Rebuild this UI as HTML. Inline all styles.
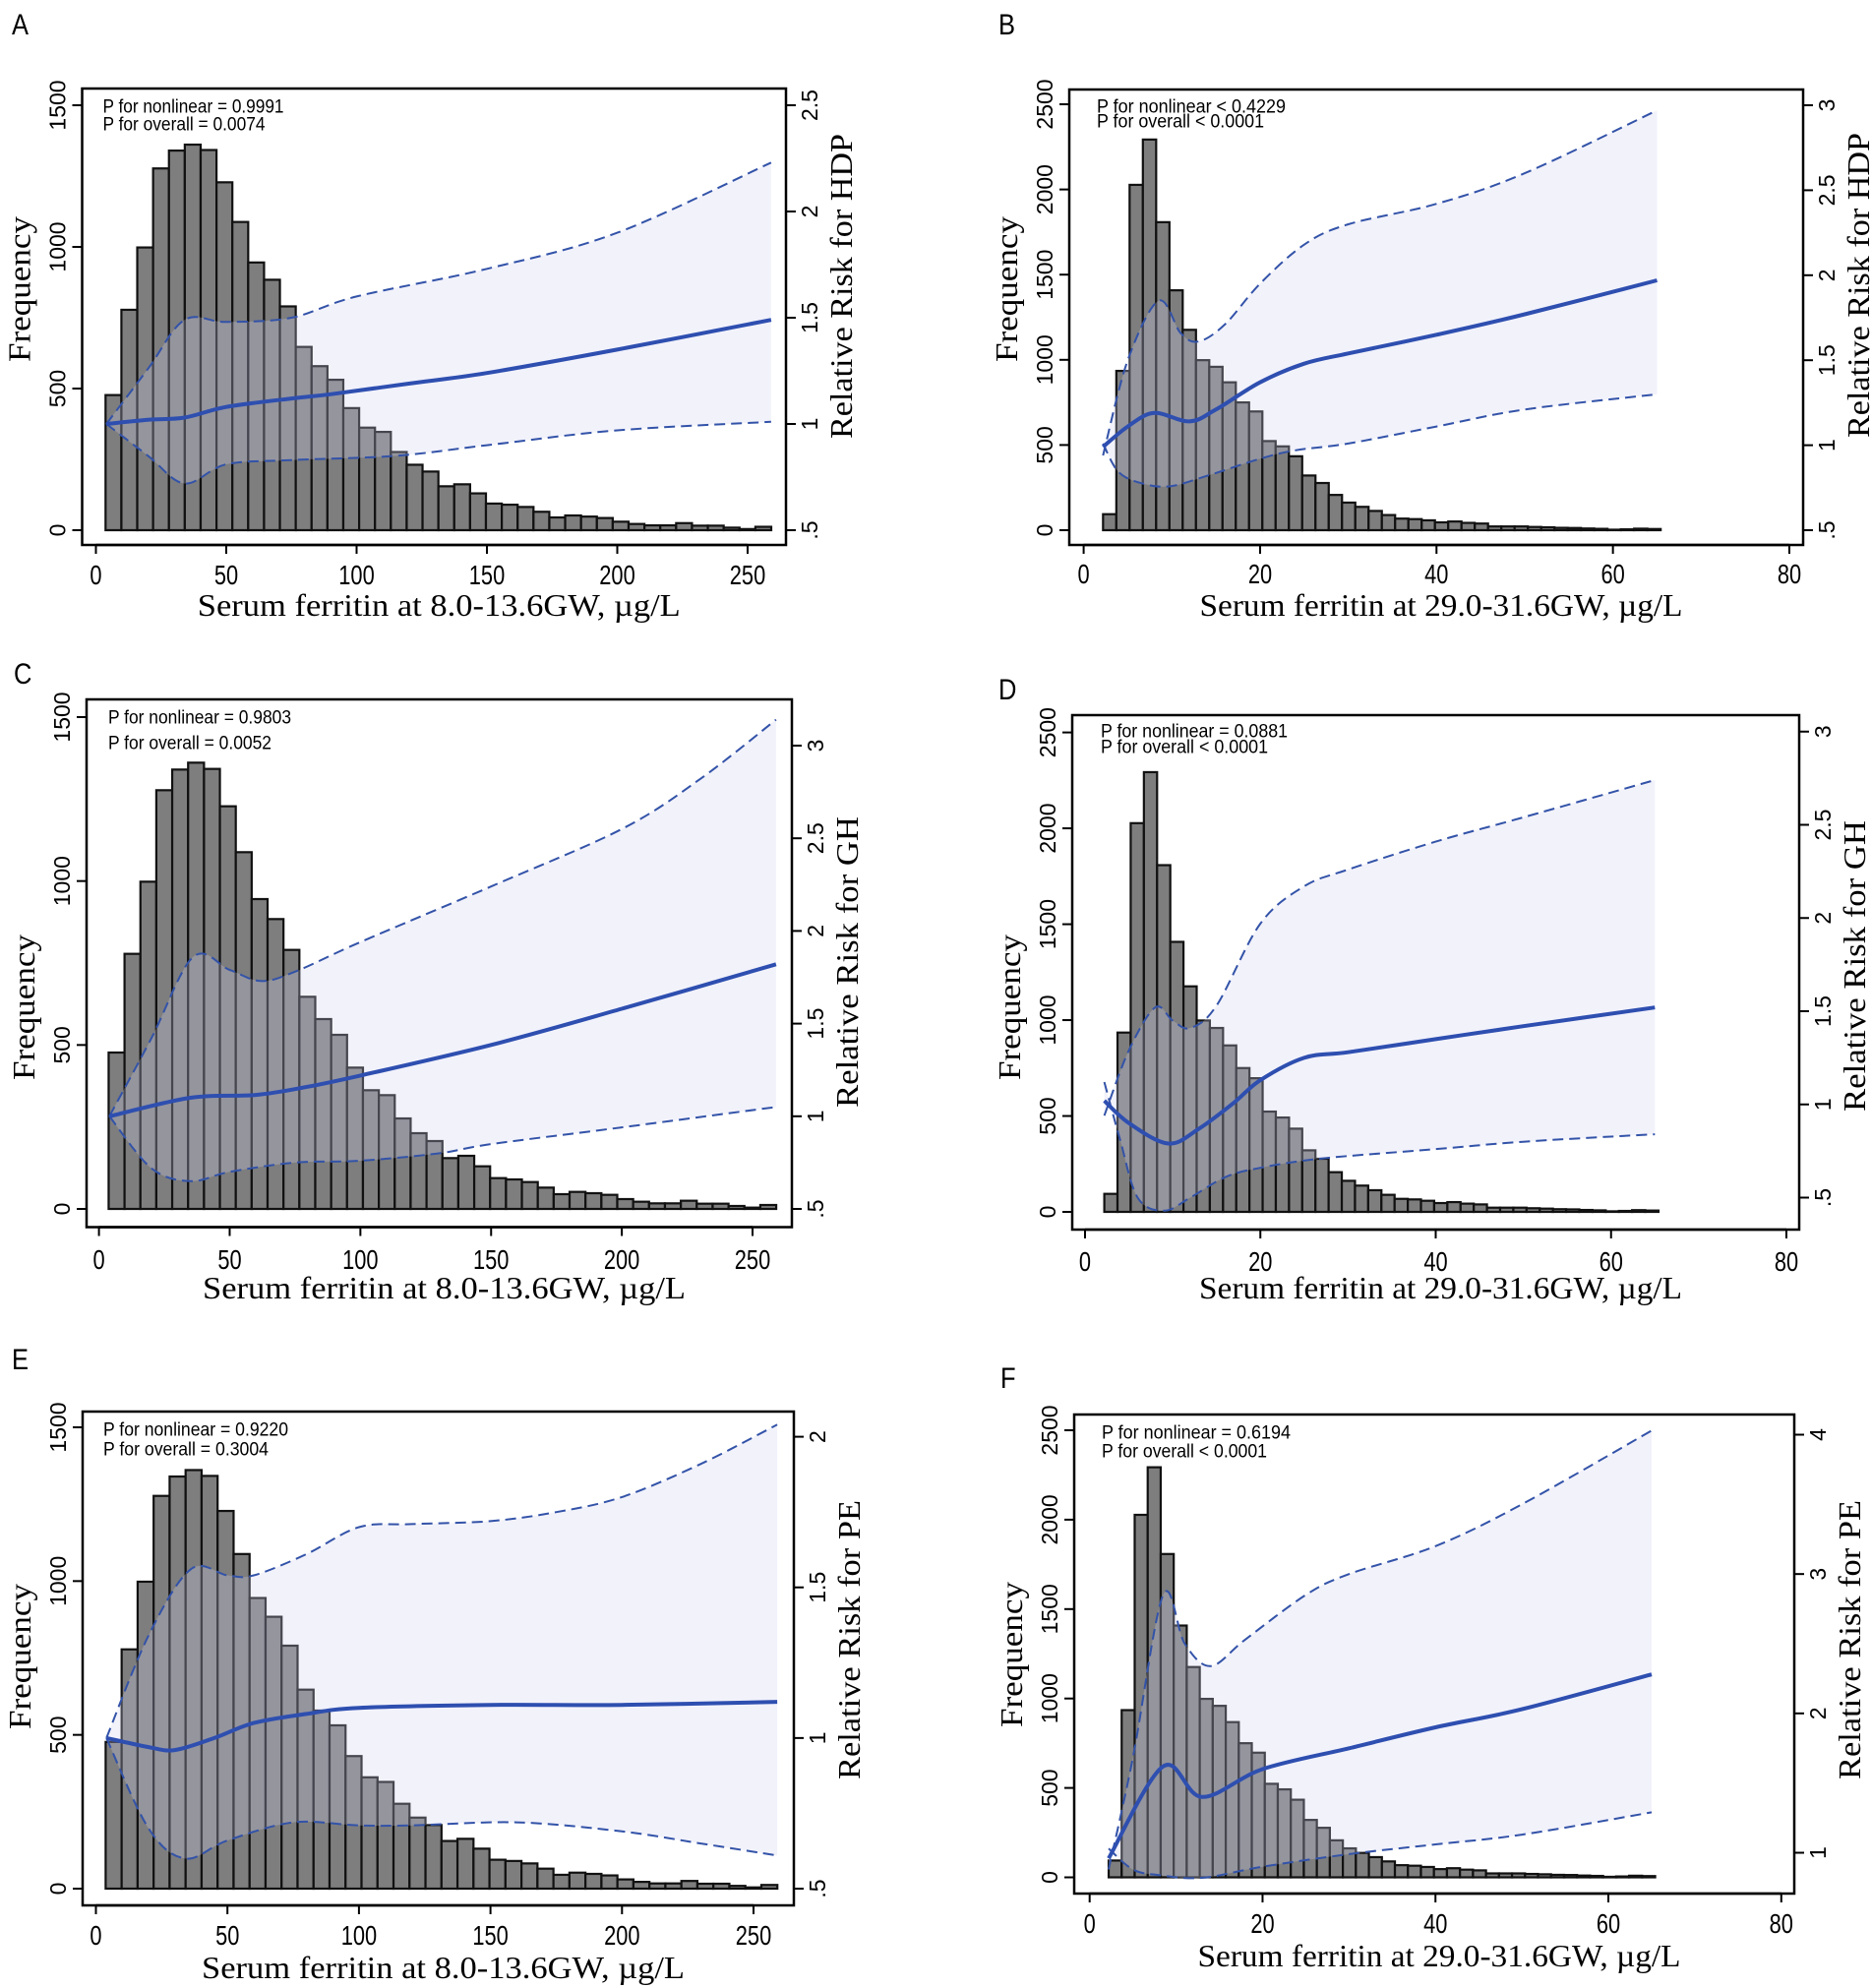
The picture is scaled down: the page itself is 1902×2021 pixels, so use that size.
<!DOCTYPE html>
<html><head><meta charset="utf-8"><style>
html,body{margin:0;padding:0;background:#fff;}
svg{display:block;}
.tick{font-family:"Liberation Sans",sans-serif;font-size:23px;fill:#000;}
.xtick{font-family:"Liberation Sans",sans-serif;font-size:28px;fill:#000;}
.ptxt{font-family:"Liberation Sans",sans-serif;font-size:19px;fill:#000;}
.ttl{font-family:"Liberation Serif",serif;font-size:32px;fill:#000;}
.lab{font-family:"Liberation Sans",sans-serif;font-size:30px;fill:#000;}
</style></head><body>
<svg id="fig" width="1902" height="2021" viewBox="0 0 1902 2021" xmlns="http://www.w3.org/2000/svg"></svg>
<script>
// ---- data ----
const histEarly = [477,778,998,1277,1340,1361,1342,1228,1088,945,884,790,647,579,531,431,362,347,276,231,207,155,162,130,94,90,82,65,45,52,48,43,30,22,17,17,25,16,16,9,4,12];
const histLate = [94,935,2027,2293,1808,1408,1176,998,959,868,750,697,523,492,434,321,277,207,162,137,113,89,68,65,58,46,51,43,39,22,22,22,19,17,14,13,10,8,3,5,9,7];
const earlyStart = 3.7, earlyWidth = 6.08;
const lateStart = 2.2, lateWidth = 1.505;

const xA = [4,20,34,50,75,90,120,150,200,259];
const cA = [1.0,1.02,1.03,1.08,1.12,1.14,1.19,1.24,1.35,1.49];
const xAu = [4,20,34,50,75,100,150,200,259];
const uA = [1.0,1.26,1.49,1.48,1.5,1.6,1.73,1.9,2.23];
const xAl = [4,20,34,50,75,115,150,200,259];
const lA = [1.0,0.85,0.72,0.81,0.83,0.85,0.9,0.97,1.01];

const xB = [2.2,5,8,12,15,20,25,30,40,50,65];
const cB = [0.99,1.11,1.19,1.14,1.21,1.37,1.48,1.54,1.65,1.77,1.97];
const xBu = [2.2,5,8.5,11,13,16,20,25,30,40,50,65];
const uB = [0.94,1.5,1.85,1.66,1.61,1.71,1.95,2.18,2.3,2.42,2.6,2.97];
const xBl = [2.2,4,7,10,14,20,24,30,40,50,65];
const lB = [1.01,0.84,0.77,0.76,0.82,0.92,0.97,1.01,1.11,1.21,1.3];

const xC = [4,35,60,80,100,150,200,259];
const cC = [1.0,1.1,1.115,1.16,1.22,1.385,1.58,1.82];
const xCu = [4,20,36,50,62,75,100,150,200,230,259];
const uC = [1.0,1.42,1.86,1.79,1.73,1.78,1.94,2.24,2.55,2.82,3.14];
const xCl = [4,20,35,50,75,100,130,150,200,259];
const lC = [1.0,0.72,0.65,0.7,0.75,0.76,0.8,0.85,0.94,1.05];

const xD = [2.2,5,9.5,13,17,20,25,30,40,50,65];
const cD = [1.02,0.9,0.79,0.87,1.01,1.13,1.25,1.28,1.35,1.42,1.52];
const xDu = [2.2,5,8,10,12,15,20,25,30,40,50,65];
const uD = [0.94,1.29,1.52,1.45,1.41,1.53,1.97,2.17,2.26,2.41,2.54,2.74];
const xDl = [2.2,4,6,9,12,16,20,27,40,50,65];
const lD = [1.12,0.81,0.5,0.43,0.5,0.61,0.66,0.71,0.76,0.8,0.84];

const xE = [4,20,30,45,60,80,100,150,200,259];
const cE = [1.0,0.97,0.96,1.0,1.05,1.08,1.1,1.11,1.11,1.12];
const xEu = [4,20,36,50,60,80,100,120,150,175,200,230,259];
const uE = [1.0,1.34,1.56,1.54,1.54,1.61,1.7,1.71,1.72,1.75,1.8,1.91,2.04];
const xEl = [4,20,34,50,75,100,120,160,200,230,259];
const lE = [1.0,0.7,0.6,0.66,0.72,0.71,0.71,0.72,0.69,0.65,0.61];

const xF = [2.2,8.5,13,20,30,40,50,65];
const cF = [0.96,1.62,1.4,1.6,1.75,1.9,2.03,2.28];
const xFu = [2.2,5,8.5,11,14,18,25,30,40,50,65];
const uF = [0.88,1.68,2.85,2.5,2.34,2.53,2.85,3.0,3.2,3.5,4.03];
const xFl = [2.2,5,8,13,20,30,40,50,65];
const lF = [1.03,0.88,0.84,0.82,0.9,0.99,1.06,1.13,1.29];

const earlyTicks = [0,50,100,150,200,250];
const lateTicks = [0,20,40,60,80];
const freqEarlyTicks = [0,500,1000,1500];
const freqLateTicks = [0,500,1000,1500,2000,2500];
const rrTicksA = [0.5,1,1.5,2,2.5];
const rrTicksB = [0.5,1,1.5,2,2.5,3];
const rrTicksE = [0.5,1,1.5,2];
const rrTicksF = [1,2,3,4];
const rrLabelsA = [".5","1","1.5","2","2.5"];
const rrLabelsB = [".5","1","1.5","2","2.5","3"];
const rrLabelsE = [".5","1","1.5","2"];
const rrLabelsF = ["1","2","3","4"];

// ---- drawing ----
const NS = "http://www.w3.org/2000/svg";
const svg = document.getElementById('fig');
function mk(tag, attrs, parent, text){
  const e = document.createElementNS(NS, tag);
  for (const k in attrs) e.setAttribute(k, attrs[k]);
  if (text !== undefined) e.textContent = text;
  (parent||svg).appendChild(e);
  return e;
}
function smoothPath(pts){
  let d = "M"+pts[0][0].toFixed(1)+","+pts[0][1].toFixed(1);
  for (let i=0;i<pts.length-1;i++){
    const p0=pts[Math.max(0,i-1)], p1=pts[i], p2=pts[i+1], p3=pts[Math.min(pts.length-1,i+2)];
    const c1=[p1[0]+(p2[0]-p0[0])/6, p1[1]+(p2[1]-p0[1])/6];
    const c2=[p2[0]-(p3[0]-p1[0])/6, p2[1]-(p3[1]-p1[1])/6];
    d += " C"+c1[0].toFixed(1)+","+c1[1].toFixed(1)+" "+c2[0].toFixed(1)+","+c2[1].toFixed(1)+" "+p2[0].toFixed(1)+","+p2[1].toFixed(1);
  }
  return d;
}
function panel(cfg){
  const g = mk('g', {});
  
  
  const xs = v => cfg.x0 + v*(cfg.x1-cfg.x0)/cfg.xMax;
  const ys = v => cfg.y0 + v*(cfg.y1-cfg.y0)/cfg.yMax;
  const rs = v => cfg.r0 + (v-cfg.rLo)*(cfg.r1-cfg.r0)/(cfg.rHi-cfg.rLo);
  const F = cfg.frame;
  const lt = mk('text', {x:cfg.lx, y:cfg.ly, class:'lab', transform:'translate('+cfg.lx+' 0) scale(0.85 1) translate('+(-cfg.lx)+' 0)'}, g, cfg.id);
  
  
  const bg = mk('g', {}, g);
  
  
  cfg.hist.forEach((h,i)=>{
    const a = xs(cfg.bStart + i*cfg.bW), b = xs(cfg.bStart+(i+1)*cfg.bW);
    const r = mk('rect', {x:a, y:ys(h), width:b-a, height:Math.max(0.5, ys(0)-ys(h)), fill:'#7e7e7e', stroke:'#111', 'stroke-width':2.2}, bg);
    
    
  });
  const up = cfg.xu.map((x,i)=>[xs(x), rs(cfg.u[i])]);
  const lo = cfg.xl.map((x,i)=>[xs(x), rs(cfg.l[i])]);
  const loRev = lo.slice().reverse();
  const band = mk('path', {d: smoothPath(up)+" L"+smoothPath(loRev).slice(1)+" Z", fill:'#d0d0f0', 'fill-opacity':0.28, stroke:'none'}, g);
  
  
  const ul = mk('path', {d:smoothPath(up), fill:'none', stroke:'#3353a8', 'stroke-width':2, 'stroke-dasharray':'11,6'}, g);
  
  
  const ll = mk('path', {d:smoothPath(lo), fill:'none', stroke:'#3353a8', 'stroke-width':2, 'stroke-dasharray':'11,6'}, g);
  
  
  const cp = cfg.xc.map((x,i)=>[xs(x), rs(cfg.c[i])]);
  const cl = mk('path', {d:smoothPath(cp), fill:'none', stroke:'#2e4fb0', 'stroke-width':4}, g);
  
  
  const fr = mk('rect', {x:F[0], y:F[1], width:F[2]-F[0], height:F[3]-F[1], fill:'none', stroke:'#000', 'stroke-width':2.5}, g);
  
  
  const xa = mk('g', {}, g);
  
  
  mk('line', {x1:xs(0), x2:xs(cfg.xMax), y1:F[3], y2:F[3], stroke:'#000','stroke-width':2.5}, xa);
  cfg.xTicks.forEach(t=>{
    mk('line', {x1:xs(t), x2:xs(t), y1:F[3], y2:F[3]+9, stroke:'#000','stroke-width':2}, xa);
    const tx = xs(t);
    const tl = mk('text', {x:0, y:0, class:'xtick', 'text-anchor':'middle', transform:'translate('+tx+' '+cfg.xLabY+') scale(0.78 1)'}, xa, String(t));
    
    
  });
  const xt = mk('text', {x:(F[0]+F[2])/2 + 5, y:cfg.xTitY, class:'ttl', 'text-anchor':'middle', textLength:491, lengthAdjust:'spacingAndGlyphs'}, g, cfg.xTitle);
  
  
  const ya = mk('g', {}, g);
  
  
  cfg.yTicks.forEach(t=>{
    mk('line', {x1:F[0]-10, x2:F[0], y1:ys(t), y2:ys(t), stroke:'#000','stroke-width':2}, ya);
    const cx = F[0]-25, cy = ys(t);
    const tl = mk('text', {x:cx, y:cy, class:'tick', 'text-anchor':'middle', 'dominant-baseline':'central', transform:'rotate(-90 '+cx+' '+cy+')', 'font-size':'23'}, ya, String(t));
    
    
  });
  const fx = F[0]-64, fy = cfg.fTitY;
  const ft = mk('text', {x:fx, y:fy, class:'ttl', 'text-anchor':'middle', 'dominant-baseline':'central', transform:'rotate(-90 '+fx+' '+fy+')', textLength:148, lengthAdjust:'spacingAndGlyphs'}, g, 'Frequency');
  
  
  const ra = mk('g', {}, g);
  
  
  cfg.rTicks.forEach((t,i)=>{
    mk('line', {x1:F[2], x2:F[2]+10, y1:rs(t), y2:rs(t), stroke:'#000','stroke-width':2}, ra);
    const cx = F[2]+24, cy = rs(t);
    const tl = mk('text', {x:cx, y:cy, class:'tick', 'text-anchor':'middle', 'dominant-baseline':'central', transform:'rotate(-90 '+cx+' '+cy+')', 'font-size':'23'}, ra, cfg.rLabels[i]);
    
    
  });
  const rx = F[2]+56, ry = cfg.rTitY;
  const rt = mk('text', {x:rx, y:ry, class:'ttl', 'text-anchor':'middle', 'dominant-baseline':'central', transform:'rotate(-90 '+rx+' '+ry+')', textLength:cfg.rTitLen, lengthAdjust:'spacingAndGlyphs'}, g, cfg.rTitle);
  
  
  const p1 = mk('text', {x:F[0]+cfg.pdx, y:F[1]+cfg.pdy1, class:'ptxt', 'dominant-baseline':'central', textLength:cfg.pw1, lengthAdjust:'spacingAndGlyphs'}, g, cfg.p1);
  
  
  const p2 = mk('text', {x:F[0]+cfg.pdx, y:F[1]+cfg.pdy2, class:'ptxt', 'dominant-baseline':'central', textLength:cfg.pw2, lengthAdjust:'spacingAndGlyphs'}, g, cfg.p2);
  
  
}
const earlyTitle = "Serum ferritin at 8.0-13.6GW, \u00b5g/L";
const lateTitle = "Serum ferritin at 29.0-31.6GW, \u00b5g/L";
const E = {xMax:250, xTicks:earlyTicks, yMax:1500, yTicks:freqEarlyTicks, hist:histEarly, bStart:earlyStart, bW:earlyWidth, xTitle:earlyTitle};
const L = {xMax:80, xTicks:lateTicks, yMax:2500, yTicks:freqLateTicks, hist:histLate, bStart:lateStart, bW:lateWidth, xTitle:lateTitle};

panel(Object.assign({}, E, {id:'A', lx:12, ly:35, frame:[83.5,90,799,554], x0:97.5, x1:760, y0:539, y1:107,
  rLo:0.5, rHi:2.5, r0:539, r1:107, rTicks:rrTicksA, rLabels:rrLabelsA, rTitle:'Relative Risk for HDP', rTitLen:310, rTitY:291, fTitY:294,
  xLabY:594, xTitY:626, xc:xA, c:cA, xu:xAu, u:uA, xl:xAl, l:lA,
  p1:'P for nonlinear = 0.9991', p2:'P for overall = 0.0074', pdx:21, pdy1:19, pdy2:37, pw1:184, pw2:165}));
panel(Object.assign({}, L, {id:'B', lx:1015, ly:35, frame:[1087,91,1833,554], x0:1101.6, x1:1819, y0:539, y1:106,
  rLo:0.5, rHi:3, r0:539, r1:107, rTicks:rrTicksB, rLabels:rrLabelsB, rTitle:'Relative Risk for HDP', rTitLen:310, rTitY:290, fTitY:294,
  xLabY:593, xTitY:626, xc:xB, c:cB, xu:xBu, u:uB, xl:xBl, l:lB,
  p1:'P for nonlinear < 0.4229', p2:'P for overall < 0.0001', pdx:28, pdy1:18, pdy2:33, pw1:192, pw2:170}));
panel(Object.assign({}, E, {id:'C', lx:14, ly:695, frame:[88,711,805,1247.5], x0:100.6, x1:765, y0:1229, y1:729,
  rLo:0.5, rHi:3, r0:1229, r1:758, rTicks:rrTicksB, rLabels:rrLabelsB, rTitle:'Relative Risk for GH', rTitLen:296, rTitY:978, fTitY:1024,
  xLabY:1290, xTitY:1320, xc:xC, c:cC, xu:xCu, u:uC, xl:xCl, l:lC,
  p1:'P for nonlinear = 0.9803', p2:'P for overall = 0.0052', pdx:22, pdy1:19, pdy2:45, pw1:186, pw2:166}));
panel(Object.assign({}, L, {id:'D', lx:1015, ly:711, frame:[1090,727,1829,1250], x0:1103, x1:1816, y0:1232, y1:744.6,
  rLo:0.5, rHi:3, r0:1217.5, r1:743.75, rTicks:rrTicksB, rLabels:rrLabelsB, rTitle:'Relative Risk for GH', rTitLen:296, rTitY:982, fTitY:1024,
  xLabY:1292, xTitY:1320, xc:xD, c:cD, xu:xDu, u:uD, xl:xDl, l:lD,
  p1:'P for nonlinear = 0.0881', p2:'P for overall < 0.0001', pdx:29, pdy1:17, pdy2:33, pw1:190, pw2:170}));
panel(Object.assign({}, E, {id:'E', lx:12, ly:1392, frame:[84,1435,807,1937], x0:97.5, x1:766, y0:1920, y1:1451,
  rLo:0.5, rHi:2, r0:1920, r1:1460.6, rTicks:rrTicksE, rLabels:rrLabelsE, rTitle:'Relative Risk for PE', rTitLen:284, rTitY:1667, fTitY:1684,
  xLabY:1977, xTitY:2011, xc:xE, c:cE, xu:xEu, u:uE, xl:xEl, l:lE,
  p1:'P for nonlinear = 0.9220', p2:'P for overall = 0.3004', pdx:21, pdy1:19, pdy2:39, pw1:188, pw2:168}));
panel(Object.assign({}, L, {id:'F', lx:1017, ly:1411, frame:[1092,1438,1824,1925], x0:1107.7, x1:1810.8, y0:1908.5, y1:1454,
  rLo:1, rHi:4, r0:1883.5, r1:1458.5, rTicks:rrTicksF, rLabels:rrLabelsF, rTitle:'Relative Risk for PE', rTitLen:284, rTitY:1667, fTitY:1682,
  xLabY:1965, xTitY:1999, xc:xF, c:cF, xu:xFu, u:uF, xl:xFl, l:lF,
  p1:'P for nonlinear = 0.6194', p2:'P for overall < 0.0001', pdx:28, pdy1:19, pdy2:38, pw1:192, pw2:168}));
</script>
</body></html>
